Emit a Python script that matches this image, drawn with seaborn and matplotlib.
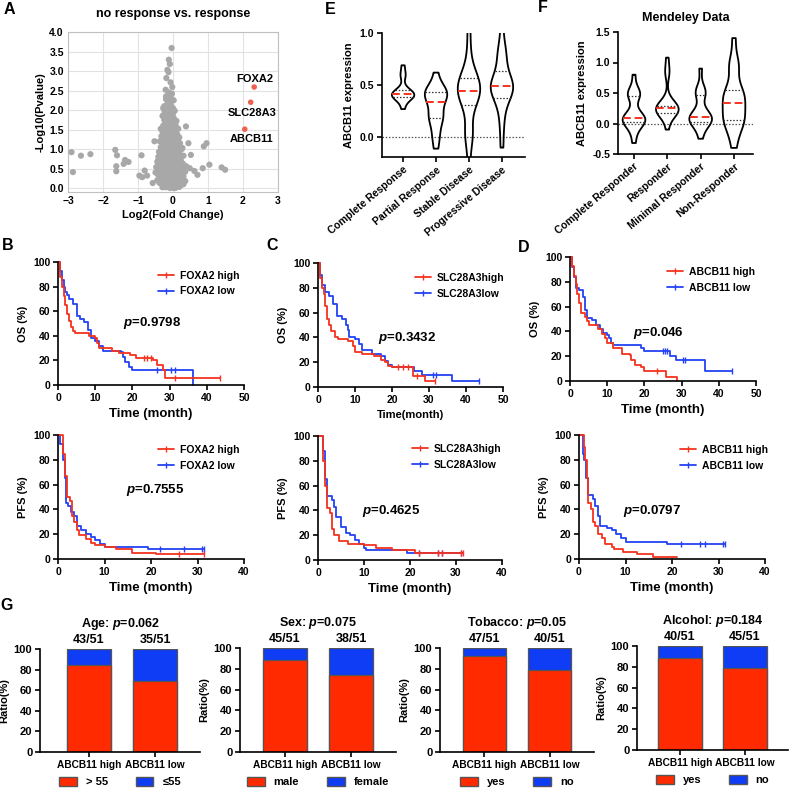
import numpy as np
import pandas as pd
import matplotlib
matplotlib.use("Agg")
import matplotlib.pyplot as plt
import seaborn as sns
from matplotlib.lines import Line2D
from matplotlib.patches import Patch

# ---------------- DATA ----------------
# Panel A: volcano (log2 fold change, -log10 p)
volc_x = [-2.9, -2.86, -2.63, -2.36, -1.65, -1.6, -1.62, -1.62, -1.41, -1.37, -1.27, -0.9, -0.96, -0.88,
          -0.81, -0.74, -0.58, -0.53, -0.36, 0.37, 0.44, 0.51, 0.48, 0.61, 0.7, 0.85, 0.96, 1.04, 1.39,
          1.49, 0.88, 0.27, 0.3,
          -0.04, -0.12, -0.09, -0.16, -0.13, -0.19, -0.07, -0.02, -0.21,
          -0.2, -0.1, -0.05, -0.15, -0.25, -0.08, 0.0, -0.18, -0.28, -0.1, 0.05, -0.22, -0.02,
          -0.3, -0.15, 0.02, -0.25, -0.08, 0.1, -0.2, -0.05, 0.08, -0.28, -0.12, 0.0, -0.35, -0.2, 0.15,
          -0.3, -0.1, 0.05, -0.22, 0.12, -0.05, -0.33, -0.15, 0.02, 0.18, -0.25, -0.08, 0.1, -0.38, -0.18,
          0.0, 0.2, -0.28, -0.1, 0.08,
          -0.35, -0.2, -0.02, 0.15, 0.25, -0.28, -0.12, 0.05, -0.4, -0.22, 0.0, 0.18, -0.32, -0.15, 0.08,
          0.3, -0.42, -0.25, -0.05, 0.15, -0.35, -0.18, 0.02, 0.22,
          -0.45, -0.28, -0.1, 0.1, 0.28, -0.38, -0.2, 0.0, 0.18, 0.38, -0.48, -0.3, -0.12, 0.08, 0.25,
          -0.4, -0.22, -0.03, 0.15, 0.35, -0.5, -0.32, -0.15, 0.05, 0.22, -0.42, -0.25, -0.06, 0.12, 0.3,
          -0.35, -0.18, 0.0, 0.2, -0.45, -0.28, -0.1, 0.1, 0.28, -0.38, -0.2, -0.02, 0.15, -0.3, -0.12,
          0.05, 0.22, -0.2, 0.0, 0.1, -0.08,
          -0.12, -0.03, -0.2, 0.02, -0.12, -0.06, -0.16, -0.24, -0.14, 0.0,
          -0.1, -0.22, 0.04, -0.16, -0.02, -0.24, -0.08, 0.06, -0.17, -0.28, -0.02, 0.08, -0.1, -0.22,
          -0.04, 0.14, -0.3, -0.14, 0.04, -0.24, -0.06, 0.14,
          -0.16, 0.02, -0.3, -0.08, 0.1, -0.18, -0.36, 0.02, -0.1, 0.12, -0.25, -0.06, 0.22, -0.2, 0.08,
          -0.1, -0.3, 0.12, -0.02, -0.16, 0.04, -0.32, 0.2, -0.06, -0.24, 0.12, 0.3,
          -0.38, -0.2, 0.0, -0.08, 0.1, -0.3, 0.25, -0.22, 0.0, 0.16, -0.35, -0.12, 0.06, 0.26, -0.25,
          -0.05, 0.14, -0.15, 0.05, 0.35, -0.28, -0.08, 0.12, 0.3, -0.12, 0.18, -0.3, 0.05]
volc_y = [0.92, 0.41, 0.83, 0.87, 0.98, 0.84, 0.56, 0.43, 0.62, 0.72, 0.67, 0.84, 0.32, 0.28,
          0.45, 0.32, 0.13, 1.2, 0.15, 1.58, 1.15, 0.85, 0.51, 0.44, 0.34, 0.51, 1.15, 0.6, 0.53,
          0.47, 1.07, 1.03, 0.47,
          3.59, 3.29, 3.18, 3.03, 2.97, 2.82, 2.71, 2.59, 2.52,
          2.35, 2.4, 2.3, 2.2, 2.1, 2.15, 2.05, 2.0, 2.05, 1.95, 1.98, 1.9, 1.88,
          1.85, 1.82, 1.8, 1.75, 1.74, 1.72, 1.66, 1.65, 1.6, 1.6, 1.58, 1.55, 1.52, 1.5, 1.52,
          1.45, 1.45, 1.44, 1.4, 1.38, 1.36, 1.33, 1.32, 1.3, 1.3, 1.25, 1.24, 1.22, 1.2, 1.18,
          1.17, 1.15, 1.12, 1.1, 1.1,
          1.05, 1.05, 1.04, 1.03, 1.0, 0.98, 0.97, 0.96, 0.93, 0.92, 0.9, 0.9, 0.86, 0.85, 0.85,
          0.83, 0.8, 0.8, 0.79, 0.78, 0.74, 0.73, 0.72, 0.72,
          0.68, 0.67, 0.66, 0.65, 0.63, 0.6, 0.6, 0.58, 0.58, 0.56, 0.54, 0.53, 0.52, 0.51, 0.5,
          0.46, 0.46, 0.45, 0.44, 0.42, 0.4, 0.39, 0.38, 0.38, 0.37, 0.33, 0.32, 0.31, 0.3, 0.3,
          0.26, 0.25, 0.24, 0.23, 0.2, 0.19, 0.18, 0.17, 0.16, 0.13, 0.12, 0.12, 0.11, 0.07, 0.06,
          0.06, 0.07, 0.02, 0.01, 0.02, 0.0,
          2.45, 2.42, 2.28, 2.25, 2.25, 2.12, 2.08, 1.96, 1.92, 1.92,
          1.78, 1.7, 1.68, 1.62, 1.62, 1.55, 1.52, 1.48, 1.47, 1.42, 1.4, 1.34, 1.33, 1.3,
          1.27, 1.26, 1.24, 1.22, 1.2, 1.16, 1.14, 1.12,
          1.1, 1.08, 1.08, 1.0, 1.0, 0.95, 0.9, 0.88, 0.88, 0.88, 0.86, 0.82, 0.8, 0.77, 0.76,
          0.72, 0.7, 0.7, 0.68, 0.64, 0.62, 0.62, 0.6, 0.57, 0.56, 0.55, 0.54,
          0.5, 0.5, 0.5, 0.42, 0.42, 0.43, 0.4, 0.36, 0.34, 0.34, 0.3, 0.28, 0.27, 0.26, 0.22,
          0.2, 0.2, 0.15, 0.14, 0.18, 0.1, 0.09, 0.08, 0.1, 0.03, 0.03, 0.02, 0.0]
gene_names = ["FOXA2", "SLC28A3", "ABCB11"]
gene_x = [2.32, 2.22, 2.05]
gene_y = [2.59, 2.2, 1.51]

# Panel E: violin data
E_groups = ["Complete Response", "Partial Response", "Stable Disease", "Progressive Disease"]
E_cr = [0.27, 0.34, 0.37, 0.38, 0.39, 0.40, 0.41, 0.41, 0.42, 0.43, 0.44, 0.47, 0.58, 0.61, 0.69]
E_pr = [-0.11, 0.0, 0.05, 0.15, 0.18, 0.2, 0.22, 0.3, 0.34, 0.37, 0.40, 0.42, 0.43, 0.44, 0.46, 0.5, 0.62]
E_sd = [-0.2, -0.02, 0.03, 0.06, 0.2, 0.31, 0.33, 0.36, 0.4, 0.42, 0.44, 0.46, 0.48, 0.5, 0.54, 0.57,
        0.58, 0.62, 0.7, 0.85, 1.05]
E_pd = [-0.1, 0.08, 0.2, 0.3, 0.36, 0.38, 0.42, 0.45, 0.47, 0.48, 0.49, 0.5, 0.52, 0.55, 0.6, 0.64,
        0.7, 0.78, 0.82, 0.88, 1.05]

# Panel F: violin data (Mendeley)
F_groups = ["Complete Responder", "Responder", "Minimal Responder", "Non-Responder"]
F_cr = [-0.32, -0.15, -0.05, 0.0, 0.02, 0.04, 0.06, 0.08, 0.09, 0.1, 0.12, 0.2, 0.44, 0.46, 0.48, 0.5,
        0.55, 0.8]
F_r = [-0.1, 0.1, 0.14, 0.16, 0.18, 0.22, 0.24, 0.25, 0.25, 0.26, 0.27, 0.28, 0.29, 0.4, 0.82, 0.86, 1.08]
F_mr = [-0.25, -0.1, -0.02, 0.02, 0.03, 0.05, 0.08, 0.1, 0.11, 0.13, 0.16, 0.25, 0.47, 0.49, 0.52, 0.58, 0.9]
F_nr = [-0.4, -0.2, -0.05, 0.0, 0.05, 0.07, 0.1, 0.2, 0.3, 0.34, 0.38, 0.45, 0.5, 0.55, 0.56, 0.9, 0.95,
        1.0, 1.4]

# Kaplan-Meier step curves (time in months, survival %)
B_os_hi_t = [0, 0.5, 1, 1.5, 2, 2.5, 3, 3.5, 4, 4.5, 8.2, 10, 10.5, 11, 14.5, 16.5, 19.3, 21, 25.6, 26.5, 28.2, 28.8, 43.5]
B_os_hi_s = [100, 88, 80, 72, 65, 58, 52, 47, 44, 42, 40, 38, 34, 30, 28, 26, 24, 22, 20, 16, 12, 6, 6]
B_os_hi_c = [23, 24, 25, 31.5, 43.5]
B_os_lo_t = [0, 0.5, 1, 1.5, 2, 2.5, 3, 4, 5, 6, 7, 8, 9, 10, 11, 12, 17, 17.5, 18, 19, 20, 36.3]
B_os_lo_s = [100, 93, 85, 80, 76, 73, 70, 66, 56, 54, 51, 45, 38, 36, 32, 28, 27, 23, 19, 15, 12, 0]
B_os_lo_c = [26.5, 30.5, 31.5]

B_pfs_hi_t = [0, 0.8, 1, 1.5, 2, 2.5, 3, 3.5, 4, 4.5, 6, 7, 8, 10, 12.5, 16, 21, 31.5]
B_pfs_hi_s = [100, 100, 85, 67, 50, 47, 35, 30, 23, 19, 16, 13, 11, 10, 8, 5, 4, 4]
B_pfs_hi_c = [26, 31.5]
B_pfs_lo_t = [0, 0.5, 1, 1.5, 1.8, 2.2, 2.7, 3.5, 4, 5, 6, 7, 8, 9, 10, 19.3, 31.5]
B_pfs_lo_s = [100, 93, 80, 65, 45, 43, 38, 35, 27, 23, 20, 18, 15, 12, 10, 8, 8]
B_pfs_lo_c = [22, 27, 31, 31.5]

C_os_hi_t = [0, 0.5, 1, 1.5, 2, 2.5, 3, 3.5, 4.5, 5.5, 8, 9.5, 10, 12, 15, 17, 18, 19, 20, 25.7, 29, 31.5]
C_os_hi_s = [100, 88, 80, 75, 65, 55, 50, 45, 40, 39, 37, 33, 28, 27, 25, 22, 20, 17, 16, 9, 5, 5]
C_os_hi_c = [21.7, 23, 24.4, 26.7, 31.5]
C_os_lo_t = [0, 0.5, 1, 2, 3, 4, 5, 6.5, 7.5, 8, 8.5, 10, 11, 12, 14.5, 17, 18, 19, 20, 26, 28, 36.3, 43.5]
C_os_lo_s = [100, 90, 82, 77, 73, 67, 57, 55, 50, 46, 40, 39, 35, 30, 27, 25, 21, 18, 16, 13, 10, 5, 5]
C_os_lo_c = [31, 32, 43.5]

C_pfs_hi_t = [0, 1, 1.5, 2, 2.5, 3, 3.5, 4.5, 6.5, 10, 12.7, 16, 21, 31.5]
C_pfs_hi_s = [100, 80, 60, 42, 38, 25, 20, 15, 13, 12, 10, 8, 6, 6]
C_pfs_hi_c = [22, 26, 27, 31, 31.5]
C_pfs_lo_t = [0, 1, 1.5, 2, 3, 3.5, 4, 5, 6, 7, 8, 9, 10, 10.5, 19.3, 31.5]
C_pfs_lo_s = [100, 88, 65, 52, 48, 43, 35, 27, 22, 20, 16, 13, 10, 8, 6, 6]
C_pfs_lo_c = [22, 26, 27, 31]

D_os_hi_t = [0, 0.5, 1, 1.5, 2, 2.5, 3, 4, 4.5, 5, 7.5, 8.5, 9.5, 10, 11.5, 14, 16, 16.5, 17.5, 19, 20, 25.8, 28.7]
D_os_hi_s = [100, 93, 85, 78, 70, 63, 55, 52, 48, 45, 42, 38, 35, 31, 27, 22, 21, 17, 13, 11, 8, 3, 0]
D_os_hi_c = [23.5]
D_os_lo_t = [0, 0.5, 1, 1.5, 2.5, 3.5, 4, 4.5, 6, 7, 8, 9, 10, 10.5, 11, 11.5, 19, 20, 27, 28.5, 36.3, 43.5]
D_os_lo_s = [100, 92, 84, 75, 73, 68, 57, 51, 49, 45, 42, 39, 37, 35, 31, 29, 27, 24, 20, 17, 8, 8]
D_os_lo_c = [25, 25.5, 26, 30.5, 31, 43.5]

D_pfs_hi_t = [0, 1, 1.3, 1.7, 2, 2.5, 3, 3.5, 4, 5, 5.5, 7, 7.5, 9.5, 12.5, 16, 21]
D_pfs_hi_s = [100, 90, 80, 65, 45, 40, 30, 27, 20, 17, 12, 10, 8, 6, 4, 2, 1.5]
D_pfs_hi_c = []
D_pfs_lo_t = [0, 0.8, 1, 1.5, 2, 3, 3.5, 4, 4.5, 6, 7, 8, 9, 10, 19, 31.5]
D_pfs_lo_s = [100, 85, 80, 65, 52, 48, 43, 35, 27, 25, 23, 20, 17, 14, 12, 12]
D_pfs_lo_c = [22, 26, 27, 31, 31.5]

# Panel G: stacked ratio bars
G_groups = ["ABCB11 high", "ABCB11 low"]
G_titles = ["Age", "Sex", "Tobacco", "Alcohol"]
G_pvals = ["0.062", "0.075", "0.05", "0.184"]
G_counts = [["43/51", "35/51"], ["45/51", "38/51"], ["47/51", "40/51"], ["40/51", "45/51"]]
G_red = [[84.3, 68.6], [88.2, 74.5], [92.2, 78.4], [88.2, 78.4]]
G_blue = [[15.7, 31.4], [11.8, 25.5], [7.8, 21.6], [11.8, 21.6]]
G_legend = [["> 55", "≤55"], ["male", "female"], ["yes", "no"], ["yes", "no"]]

# ---------------- STYLE ----------------
sns.set_theme(style="ticks")
plt.rcParams["font.family"] = ["Liberation Sans", "DejaVu Sans"]
plt.rcParams["font.weight"] = "bold"
plt.rcParams["axes.labelweight"] = "bold"
plt.rcParams["axes.titleweight"] = "bold"
plt.rcParams["mathtext.fontset"] = "custom"
plt.rcParams["mathtext.it"] = "Liberation Sans:italic:bold"
plt.rcParams["mathtext.rm"] = "Liberation Sans:bold"
plt.rcParams["axes.edgecolor"] = "black"
plt.rcParams["xtick.color"] = "black"
plt.rcParams["ytick.color"] = "black"
plt.rcParams["axes.labelcolor"] = "black"
plt.rcParams["text.color"] = "black"

RED = "#F5331F"
BLUE = "#2342F5"
BAR_RED = "#FF2A00"
BAR_BLUE = "#0F3CF5"

W, H = 791, 788
fig = plt.figure(figsize=(W / 100, H / 100), dpi=100)
fig.patch.set_facecolor("white")


def axpx(l, t, r, b):
    return fig.add_axes([l / W, 1 - b / H, (r - l) / W, (b - t) / H])


def style_graphpad(ax, size=7.5):
    sns.despine(ax=ax)
    for s in ["left", "bottom"]:
        ax.spines[s].set_linewidth(1.2)
    ax.tick_params(direction="out", length=3.5, width=1.2, labelsize=size, pad=2)


# Panel letters
for letter, (x, y) in {"A": (9, 9), "E": (330, 9), "F": (543, 7), "B": (8, 246),
                       "C": (272, 246), "D": (524, 247), "G": (7, 605)}.items():
    fig.text(x / W, 1 - y / H, letter, fontsize=11.5, fontweight="bold", ha="center", va="center")

# ---------------- Panel A ----------------
axA = axpx(68, 32, 278, 192)
sns.scatterplot(x=volc_x, y=volc_y, color="#A8A8A8", s=20, edgecolor="none", ax=axA, zorder=3)
sns.scatterplot(x=gene_x, y=gene_y, color="#F0604F", s=16, edgecolor="none", ax=axA, zorder=4)
offsets = [(0.02, 0.2), (0.04, -0.28), (0.18, -0.25)]
for nm, gx, gy, (dx, dy) in zip(gene_names, gene_x, gene_y, offsets):
    axA.text(gx + dx, gy + dy, nm, ha="center", va="center", fontsize=8, fontweight="bold")
axA.set_xlim(-3, 3)
axA.set_ylim(-0.1, 4.0)
axA.set_xticks(range(-3, 4))
axA.set_yticks(np.arange(0, 4.01, 0.5))
axA.set_yticklabels([f"{v:.1f}" for v in np.arange(0, 4.01, 0.5)])
axA.grid(True, color="#E2E2E2", lw=0.8, zorder=0)
axA.set_axisbelow(True)
for s in axA.spines.values():
    s.set_color("#C0C0C0")
    s.set_linewidth(0.8)
axA.tick_params(length=0, labelsize=7.5, pad=3)
axA.set_xlabel("Log2(Fold Change)", fontsize=8, labelpad=3)
axA.set_ylabel("-Log10(Pvalue)", fontsize=8, labelpad=3)
axA.set_title("no response vs. response", fontsize=9, fontweight="bold", pad=11)


# ---------------- Violin panels ----------------
def violin_panel(box, groups, vals, ylim, yticks, xlim, title=None):
    ax = axpx(*box)
    df = pd.DataFrame({"group": np.repeat(groups, [len(v) for v in vals]),
                       "value": np.concatenate(vals)})
    sns.violinplot(data=df, x="group", y="value", order=groups, inner="quart", cut=0,
                   fill=False, color="black", linewidth=1.3, density_norm="width",
                   width=0.68, bw_adjust=0.7, ax=ax)
    for i, ln in enumerate(ax.lines):
        if i % 3 == 1:
            ln.set_color(RED)
            ln.set_dashes([4, 2])
            ln.set_linewidth(1.4)
        else:
            ln.set_color("#333333")
            ln.set_dashes([1.2, 1.4])
            ln.set_linewidth(0.9)
    ax.axhline(0, color="#555555", lw=0.9, dashes=(1.2, 1.4), zorder=0)
    ax.set_ylim(*ylim)
    ax.set_xlim(*xlim)
    ax.set_yticks(yticks)
    ax.set_yticklabels([f"{v:.1f}" for v in yticks])
    ax.set_xlabel("")
    ax.set_ylabel("ABCB11 expression", fontsize=8, labelpad=4)
    style_graphpad(ax, 7.5)
    ax.set_xticks(range(len(groups)))
    ax.set_xticklabels(groups, rotation=40, ha="right", rotation_mode="anchor", fontsize=7.5)
    if title:
        ax.set_title(title, fontsize=9, fontweight="bold", pad=8)
    return ax


violin_panel((382, 33, 525, 157), E_groups, [E_cr, E_pr, E_sd, E_pd], (-0.19, 1.0),
             [0.0, 0.5, 1.0], (-0.64, 3.7))
violin_panel((618, 32, 753, 154), F_groups, [F_cr, F_r, F_mr, F_nr], (-0.5, 1.5),
             [-0.5, 0.0, 0.5, 1.0, 1.5], (-0.48, 3.57), title="Mendeley Data")


# ---------------- KM panels ----------------
def km_panel(box, xmax, hi, lo, names, ylab, xlab, xlab_size, ptxt, ppos, legxy):
    ax = axpx(*box)
    for (t, s, c), col in [(lo, BLUE), (hi, RED)]:
        sns.lineplot(x=t, y=s, drawstyle="steps-post", estimator=None, sort=False,
                     color=col, linewidth=1.3, ax=ax, clip_on=False)
        if len(c):
            idx = np.searchsorted(np.array(t), np.array(c), side="right") - 1
            cy = np.array(s)[idx]
            ax.plot(c, cy, linestyle="none", marker="|", markersize=5, mew=1.0, color=col,
                    clip_on=False)
    ax.set_xlim(0, xmax)
    ax.set_ylim(0, 100)
    ax.set_xticks(range(0, xmax + 1, 10))
    ax.set_yticks(range(0, 101, 20))
    style_graphpad(ax, 7.5)
    ax.set_xlabel(xlab, fontsize=xlab_size, labelpad=4)
    ax.set_ylabel(ylab, fontsize=8, labelpad=4)
    handles = [Line2D([], [], color=RED, lw=1.3, marker="|", markersize=5, mew=1.0),
               Line2D([], [], color=BLUE, lw=1.3, marker="|", markersize=5, mew=1.0)]
    leg = ax.legend(handles, names, loc="upper left", bbox_to_anchor=legxy, frameon=False,
                    fontsize=7.5, handlelength=1.5, handletextpad=0.6, borderpad=0,
                    borderaxespad=0, labelspacing=0.55)
    for tx in leg.get_texts():
        tx.set_fontweight("bold")
    ax.text(ppos[0], ppos[1], "$\\mathit{p}$=" + ptxt, fontsize=9.5, fontweight="bold",
            ha="center", va="center")
    return ax


km_panel((58, 262, 244, 385), 50, (B_os_hi_t, B_os_hi_s, B_os_hi_c), (B_os_lo_t, B_os_lo_s, B_os_lo_c),
         ["FOXA2 high", "FOXA2 low"], "OS (%)", "Time (month)", 9.5, "0.9798", (25.3, 50),
         (0.538, 0.93))
km_panel((58, 435, 244, 559), 40, (B_pfs_hi_t, B_pfs_hi_s, B_pfs_hi_c), (B_pfs_lo_t, B_pfs_lo_s, B_pfs_lo_c),
         ["FOXA2 high", "FOXA2 low"], "PFS (%)", "Time (month)", 9.5, "0.7555", (21, 55.6),
         (0.538, 0.92))
km_panel((318, 263, 503, 387), 50, (C_os_hi_t, C_os_hi_s, C_os_hi_c), (C_os_lo_t, C_os_lo_s, C_os_lo_c),
         ["SLC28A3high", "SLC28A3low"], "OS (%)", "Time(month)", 8, "0.3432", (24, 39.5),
         (0.524, 0.92))
km_panel((318, 436, 502, 560), 40, (C_pfs_hi_t, C_pfs_hi_s, C_pfs_hi_c), (C_pfs_lo_t, C_pfs_lo_s, C_pfs_lo_c),
         ["SLC28A3high", "SLC28A3low"], "PFS (%)", "Time (month)", 9.5, "0.4625", (15.9, 39.5),
         (0.511, 0.935))
km_panel((570, 257, 756, 381), 50, (D_os_hi_t, D_os_hi_s, D_os_hi_c), (D_os_lo_t, D_os_lo_s, D_os_lo_c),
         ["ABCB11 high", "ABCB11 low"], "OS (%)", "Time (month)", 9.5, "0.046", (23.7, 38.7),
         (0.522, 0.92))
km_panel((579, 435, 765, 559), 40, (D_pfs_hi_t, D_pfs_hi_s, D_pfs_hi_c), (D_pfs_lo_t, D_pfs_lo_s, D_pfs_lo_c),
         ["ABCB11 high", "ABCB11 low"], "PFS (%)", "Time (month)", 9.5, "0.0797", (15.7, 38.7),
         (0.543, 0.92))

# ---------------- Panel G ----------------
G_boxes = [(40, 649, 200, 752), (240, 648, 396, 752), (440, 648, 594, 752), (637, 646, 788, 750)]
G_xlims = [(-0.74, 1.68), (-0.68, 1.68), (-0.68, 1.68), (-0.66, 1.66)]
for k in range(4):
    ax = axpx(*G_boxes[k])
    total = [r + b for r, b in zip(G_red[k], G_blue[k])]
    sns.barplot(x=G_groups, y=total, color=BAR_BLUE, saturation=1, width=0.67,
                edgecolor="#555555", linewidth=0.9, ax=ax)
    sns.barplot(x=G_groups, y=G_red[k], color=BAR_RED, saturation=1, width=0.67,
                edgecolor="#555555", linewidth=0.9, ax=ax)
    ax.set_xlim(*G_xlims[k])
    ax.set_ylim(0, 100)
    ax.set_yticks(range(0, 101, 20))
    style_graphpad(ax, 8)
    ax.set_xticks([0, 1])
    ax.set_xticklabels(G_groups, fontsize=7.3)
    ax.set_ylabel("Ratio(%)", fontsize=8, labelpad=3)
    ax.set_xlabel("")
    for i, tot in enumerate(total):
        ax.annotate(G_counts[k][i], (i, tot), xytext=(0, 2), textcoords="offset points",
                    ha="center", va="bottom", fontsize=9, fontweight="bold")
    hgt = G_boxes[k][3] - G_boxes[k][1]
    ax.text(0.5, 1 + 25 / hgt, G_titles[k] + ": $\\mathit{p}$=" + G_pvals[k], transform=ax.transAxes,
            ha="center", va="center", fontsize=9, fontweight="bold")
    handles = [Patch(facecolor=BAR_RED, edgecolor="#555555"), Patch(facecolor=BAR_BLUE, edgecolor="#555555")]
    leg = ax.legend(handles, G_legend[k], loc="upper center", bbox_to_anchor=(0.5, -0.24), ncol=2,
                    frameon=False, fontsize=8, handlelength=1.6, handleheight=0.9,
                    handletextpad=0.8, columnspacing=2.5, borderpad=0, borderaxespad=0)
    for tx in leg.get_texts():
        tx.set_fontweight("bold")

# make every tick label bold
for ax in fig.axes:
    for lab in ax.get_xticklabels() + ax.get_yticklabels():
        lab.set_fontweight("bold")

fig.savefig("out.png", dpi=100, facecolor="white")
